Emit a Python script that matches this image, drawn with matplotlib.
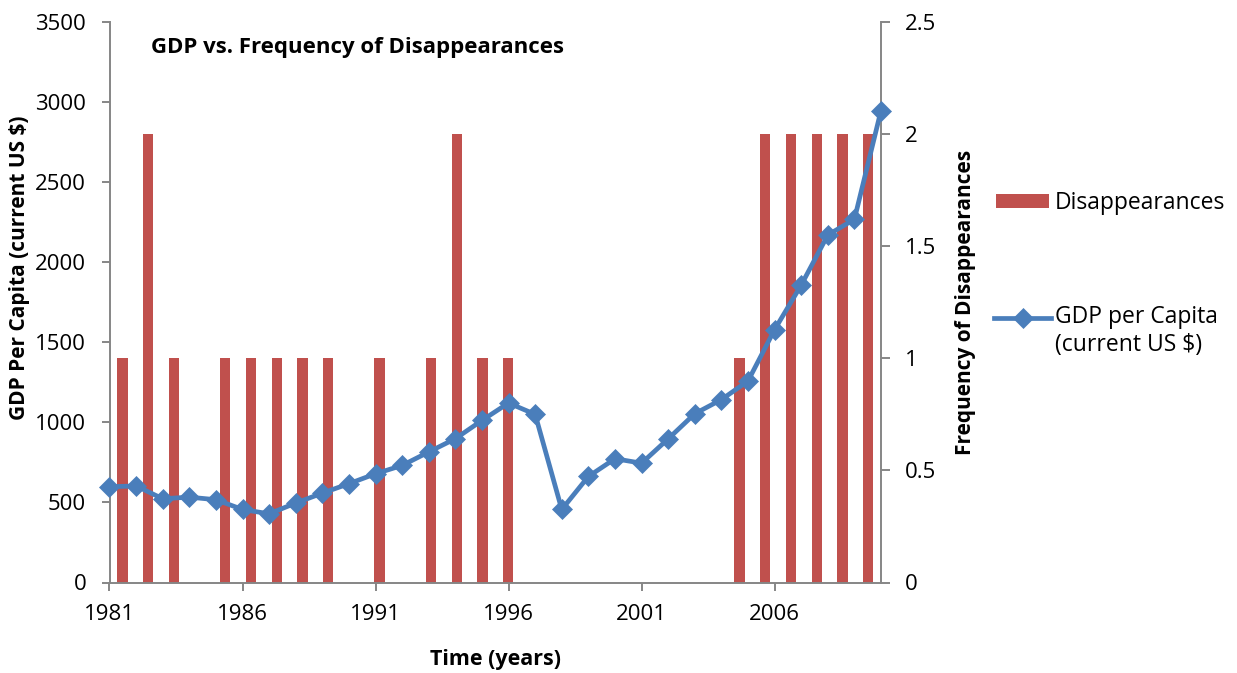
import matplotlib
matplotlib.use("Agg")
import matplotlib.pyplot as plt
from matplotlib.lines import Line2D
from matplotlib.patches import Patch
from matplotlib.legend_handler import HandlerLine2D
from matplotlib.transforms import Affine2D
import numpy as np

# ---- data -------------------------------------------------------------
years = [1981, 1982, 1983, 1984, 1985, 1986, 1987, 1988, 1989, 1990,
         1991, 1992, 1993, 1994, 1995, 1996, 1997, 1998, 1999, 2000,
         2001, 2002, 2003, 2004, 2005, 2006, 2007, 2008, 2009, 2010]
gdp_per_capita = [598, 603, 523, 533, 517, 456, 429, 496, 558, 617,
                  679, 731, 815, 898, 1012, 1121, 1050, 456, 662, 773,
                  745, 897, 1054, 1142, 1258, 1579, 1857, 2170, 2268, 2947]
disappearances = [1, 2, 1, 0, 1, 1, 1, 1, 1, 0,
                  1, 0, 1, 2, 1, 1, 0, 0, 0, 0,
                  0, 0, 0, 0, 1, 2, 2, 2, 2, 2]
x_tick_years = [1981, 1986, 1991, 1996, 2001, 2006]
gdp_ticks = [0, 500, 1000, 1500, 2000, 2500, 3000, 3500]
freq_ticks = [0, 0.5, 1, 1.5, 2, 2.5]

# ---- style ------------------------------------------------------------
FONT = ["Open Sans", "DejaVu Sans"]
plt.rcParams["font.family"] = FONT
BAR_RED = "#C0504D"
LINE_BLUE = "#4A7EBB"
AXIS_GREY = "#868686"
TICK_FS = 16
LEGEND_FS = 16.5


class FirstLineHandler(HandlerLine2D):
    """Line handle lifted to sit beside the first line of a two-line label."""

    def __init__(self, lift_px, **kw):
        super().__init__(**kw)
        self.lift_px = lift_px

    def create_artists(self, legend, orig_handle, xdescent, ydescent,
                       width, height, fontsize, trans):
        lifted = trans + Affine2D().translate(0, self.lift_px)
        return super().create_artists(legend, orig_handle, xdescent, ydescent,
                                      width, height, fontsize, lifted)


W, H = 1237, 673
fig = plt.figure(figsize=(W / 100, H / 100), dpi=100)
fig.patch.set_facecolor("white")

left, right, top, bottom = 109.5, 881, 22, 582.5
rect = [left / W, 1 - bottom / H, (right - left) / W, (bottom - top) / H]

# bar layer (right-hand frequency axis, one category slot per year)
ax_bar = fig.add_axes(rect)
n = len(years)
slots = np.arange(n) + 0.5
ax_bar.bar(slots, disappearances, width=0.4, color=BAR_RED, zorder=2)
ax_bar.set_xlim(0, n)
ax_bar.set_ylim(0, 2.5)
ax_bar.set_yticks(freq_ticks)
ax_bar.set_yticklabels(["0", "0.5", "1", "1.5", "2", "2.5"])
ax_bar.yaxis.tick_right()
ax_bar.set_xticks([])
for s in ("top", "left", "bottom"):
    ax_bar.spines[s].set_visible(False)
ax_bar.spines["right"].set_color(AXIS_GREY)
ax_bar.spines["right"].set_linewidth(1.4)
ax_bar.tick_params(axis="y", direction="out", length=6.2, width=1.4,
                   color=AXIS_GREY, pad=11, labelsize=TICK_FS, labelcolor="black")

# line layer (left-hand GDP axis, drawn above the bars)
ax = fig.add_axes(rect)
ax.set_zorder(ax_bar.get_zorder() + 1)
ax.patch.set_visible(False)
ax.plot(years, gdp_per_capita, color=LINE_BLUE, lw=3.4, marker="D",
        markersize=10, markerfacecolor=LINE_BLUE, markeredgecolor=LINE_BLUE,
        markeredgewidth=0.5, clip_on=False, solid_joinstyle="round", zorder=3)
ax.set_xlim(years[0], years[-1])
ax.set_ylim(0, 3500)
ax.set_xticks(x_tick_years)
ax.set_xticklabels([str(y) for y in x_tick_years])
ax.set_yticks(gdp_ticks)
ax.set_yticklabels([str(v) for v in gdp_ticks])
for s in ("top", "right"):
    ax.spines[s].set_visible(False)
for s in ("left", "bottom"):
    ax.spines[s].set_color(AXIS_GREY)
    ax.spines[s].set_linewidth(1.4)
ax.tick_params(axis="both", direction="out", length=5.8, width=1.4,
               color=AXIS_GREY, pad=11, labelsize=TICK_FS, labelcolor="black")
ax.tick_params(axis="x", pad=10)

# titles and axis labels
fig.text(151 / W, 1 - 52.5 / H, "GDP vs. Frequency of Disappearances",
         fontsize=16, fontweight="bold", ha="left", va="baseline")
fig.text(495 / W, 1 - 659 / H, "Time (years)", fontsize=15.5,
         fontweight="bold", ha="center", va="center")
fig.text(20 / W, 1 - 268 / H, "GDP Per Capita (current US $)", fontsize=15,
         fontweight="bold", rotation=90, ha="center", va="center")
fig.text(965 / W, 1 - 302 / H, "Frequency of Disappearances", fontsize=15,
         fontweight="bold", rotation=90, ha="center", va="center")

# legend entries
bar_handle = Patch(facecolor=BAR_RED, edgecolor="none")
line_handle = Line2D([], [], color=LINE_BLUE, lw=3.4, marker="D",
                     markersize=10, markeredgewidth=0.5)
fig.legend([bar_handle], ["Disappearances"], loc="center left",
           bbox_to_anchor=(996 / W, 1 - 203 / H), frameon=False,
           fontsize=LEGEND_FS, handlelength=2.3, handleheight=0.62,
           handletextpad=0.27, borderaxespad=0, borderpad=0)
fig.legend([line_handle], ["GDP per Capita\n(current US $)"], loc="center left",
           bbox_to_anchor=(994 / W, 1 - 331 / H), frameon=False,
           fontsize=LEGEND_FS, handlelength=2.5, handletextpad=0.18,
           borderaxespad=0, borderpad=0,
           handler_map={line_handle: FirstLineHandler(14)})

fig.savefig("out.png", dpi=100, facecolor="white")
